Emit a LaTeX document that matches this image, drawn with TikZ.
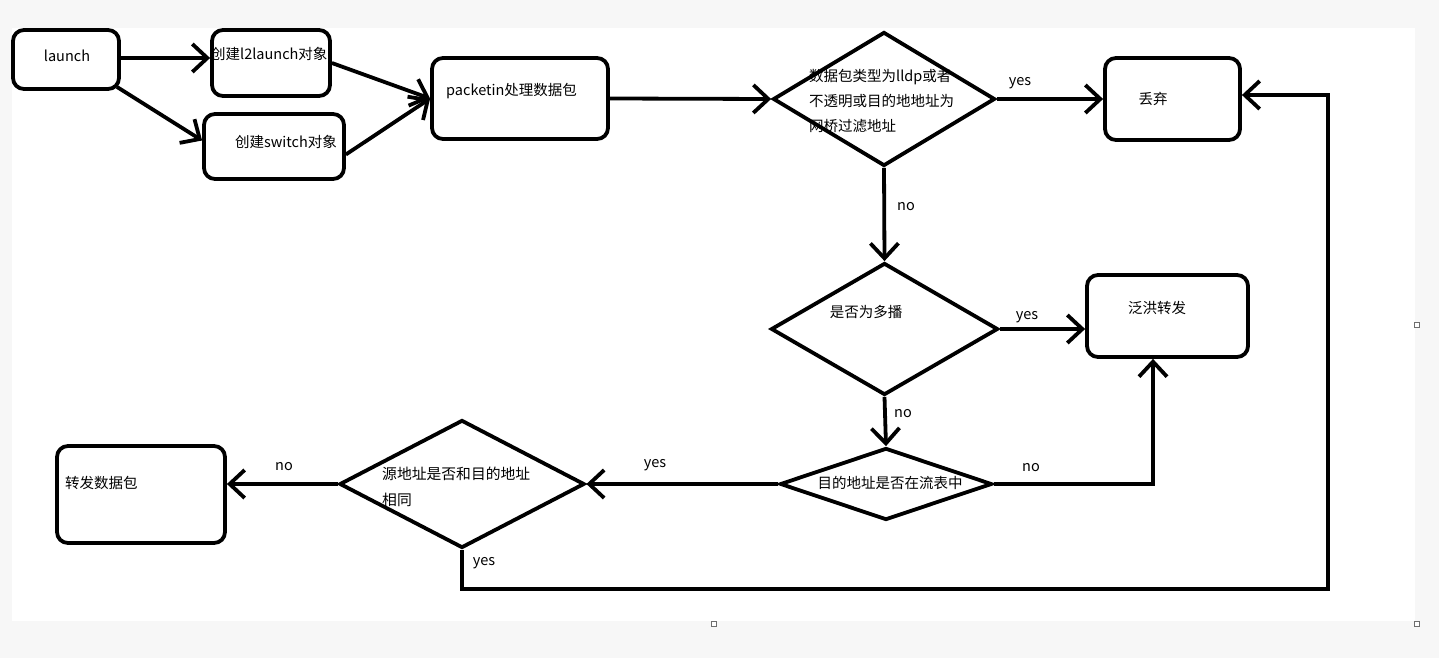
\documentclass[tikz,border=0pt]{standalone}
\usepackage{fontspec}
\newfontfamily\cjk{Noto Sans CJK SC}
\usetikzlibrary{arrows.meta,shapes.geometric}
\definecolor{bg}{RGB}{247,247,247}
\definecolor{handle}{RGB}{110,110,110}
\begin{document}
\begin{tikzpicture}[x=1pt,y=-1pt,
  box/.style={draw, line width=3.8pt, rounded corners=11pt, inner sep=0pt},
  dia/.style={draw, diamond, line width=3.8pt, inner sep=0pt, text width=0pt},
  txt/.style={font=\cjk\fontsize{14.5}{25}\selectfont, inner sep=0pt, align=left},
  lbl/.style={font=\cjk\fontsize{14.5}{18}\selectfont, inner sep=0pt},
  conn/.style={line width=3.8pt, -{Straight Barb[length=15pt,width=28pt]}},
  hnd/.style={draw=handle, fill=white, line width=0.8pt, minimum size=5pt, inner sep=0pt}
]
\useasboundingbox (0,0) rectangle (1439,658);
\fill[bg] (0,0) rectangle (1439,658);
\fill[white] (12,28) rectangle (1415,621);

% boxes
\node[box, minimum width=106, minimum height=59] (launch) at (66,59.5) {};
\node[box, minimum width=118, minimum height=66] (l2) at (271,63) {};
\node[box, minimum width=140, minimum height=65] (sw) at (274,146.5) {};
\node[box, minimum width=176, minimum height=81] (pk) at (520,98.5) {};
\node[box, minimum width=135, minimum height=82] (disc) at (1172.5,99) {};
\node[box, minimum width=161, minimum height=82] (flood) at (1167.5,316) {};
\node[box, minimum width=168, minimum height=97] (fwd) at (141,494.5) {};

% diamonds
\node[dia, minimum width=222, minimum height=134] (d1) at (884,99) {};
\node[dia, minimum width=227, minimum height=132] (d2) at (884.5,329) {};
\node[dia, minimum width=212, minimum height=72] (d3) at (886,484) {};
\node[dia, minimum width=245, minimum height=128] (d4) at (462,484) {};

% texts
\node[lbl] (tlaunch) at (67,56) {launch};
\node[lbl, anchor=west] (tl2) at (211,54) {创建l2launch对象};
\node[lbl] (tsw) at (286,142) {创建switch对象};
\node[lbl, anchor=west] (tpk) at (446,91) {packetin处理数据包};
\node[txt, anchor=west] (td1) at (809,101) {数据包类型为lldp或者\\不透明或目的地地址为\\网桥过滤地址};
\node[lbl] (tdisc) at (1153,99) {丢弃};
\node[lbl] (td2) at (866,312) {是否为多播};
\node[lbl] (tflood) at (1157,308) {泛洪转发};
\node[lbl] (td3) at (890,483) {目的地址是否在流表中};
\node[txt, anchor=west, font=\cjk\fontsize{14.8}{26}\selectfont] (td4) at (382,487) {源地址是否和目的地址\\相同};
\node[lbl, anchor=west] (tfwd) at (65,483) {转发数据包};

% edge labels
\node[lbl] (y1) at (1020,83) {yes};
\node[lbl] (n1) at (906,207) {no};
\node[lbl] (y2) at (1027,317) {yes};
\node[lbl] (n2) at (903,414) {no};
\node[lbl] (n3) at (1031,468) {no};
\node[lbl] (y3) at (655,465) {yes};
\node[lbl] (n4) at (284,467) {no};
\node[lbl] (y4) at (484,563) {yes};

% connectors
\draw[conn] ([yshift=1.5pt]launch.east) -- ([yshift=1.5pt]launch.east -| l2.west);
\draw[conn] ([xshift=-4pt,yshift=4pt]launch.south east) -- ([yshift=6pt]sw.west);
\draw[conn] (l2.east) -- (pk.west);
\draw[conn] ([yshift=-8pt]sw.east) -- (pk.west);
\draw[conn] (pk.east) -- (d1.west);
\draw[conn] (d1.east) -- (disc.west);
\draw[conn] (d1.south) -- (d2.north);
\draw[conn] (d2.east) -- (d2.east -| flood.west);
\draw[conn] (d2.south) -- (d3.north);
\coordinate (c3) at (1153,484);
\draw[conn] (d3.east) -- (c3) -- (c3 |- flood.south);
\draw[conn] (d3.west) -- (d4.east);
\draw[conn] (d4.west) -- (d4.west -| fwd.east);
\coordinate (c4) at (1328,589);
\draw[conn] (d4.south) |- (c4) |- ([yshift=4pt]disc.east);

% selection handles
\node[hnd] (h1) at (1417,325) {};
\node[hnd] (h2) at (714,624) {};
\node[hnd] (h3) at (1417,624) {};
\end{tikzpicture}
\end{document}
